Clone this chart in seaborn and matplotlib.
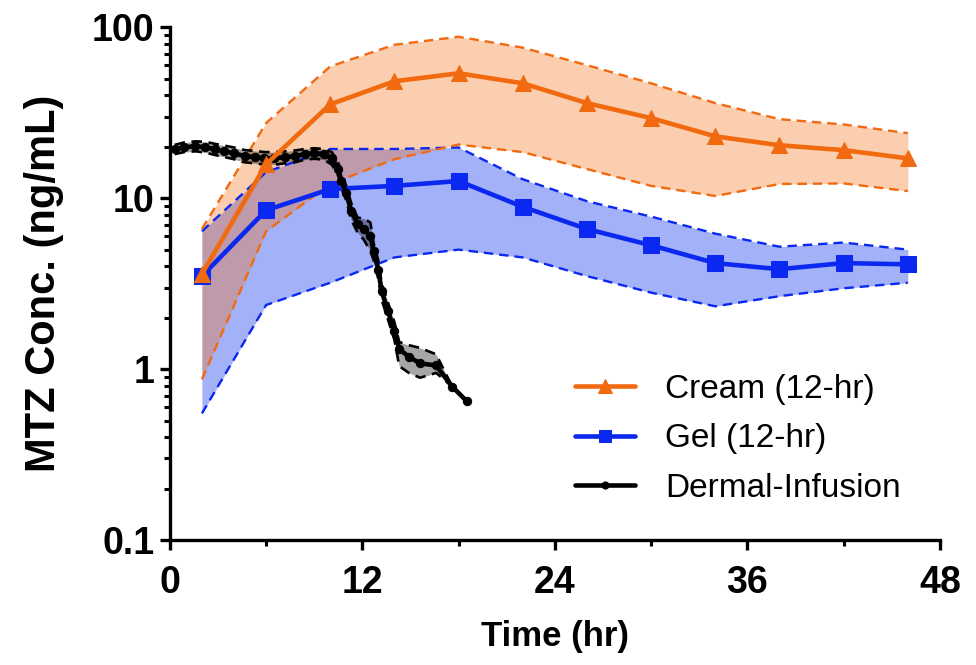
import numpy as np
import pandas as pd
import seaborn as sns
import matplotlib.pyplot as plt
from matplotlib.ticker import LogLocator, FixedLocator, FuncFormatter, NullFormatter

# tempi di campionamento (hr)
t_topical = [2, 6, 10, 14, 18, 22, 26, 30, 34, 38, 42, 46]

# crema: media e banda
cream_mean = [3.6, 15.8, 35.4, 48.3, 53.8, 47.0, 36.0, 29.4, 23.0, 20.4, 19.1, 17.1]
cream_hi = [6.6, 27.5, 59.0, 79.0, 88.0, 76.0, 60.0, 47.0, 36.0, 29.0, 27.0, 24.0]
cream_lo = [0.87, 6.4, 12.1, 16.9, 20.6, 18.6, 14.8, 11.8, 10.3, 12.1, 12.2, 11.0]

# gel: media e banda
gel_mean = [3.5, 8.5, 11.3, 11.8, 12.6, 8.9, 6.6, 5.3, 4.17, 3.84, 4.17, 4.1]
gel_hi = [6.4, 14.2, 19.4, 19.4, 19.8, 12.9, 9.6, 7.8, 6.2, 5.2, 5.5, 5.0]
gel_lo = [0.55, 2.37, 3.2, 4.5, 5.0, 4.5, 3.5, 2.8, 2.33, 2.67, 2.97, 3.2]

# infusione dermica
t_dermal = [0.3, 0.9, 1.6, 2.2, 2.8, 3.4, 4.0, 4.7, 5.3, 5.9, 6.5, 7.2, 7.8, 8.4, 9.0, 9.6,
            10.1, 10.5, 10.7, 11.0, 11.3, 11.7, 12.1, 12.5, 12.7, 13.0, 13.2, 13.6, 14.0,
            14.3, 14.9, 15.6, 16.6, 17.6, 18.5]
dermal_mean = [19.3, 19.9, 20.1, 19.9, 19.3, 18.8, 18.3, 17.6, 17.4, 17.1, 17.1, 17.4, 17.6,
               18.1, 18.3, 18.1, 17.1, 14.8, 12.6, 10.7, 8.4, 7.1, 6.6, 6.0, 4.9, 3.8, 2.86,
               2.18, 1.67, 1.31, 1.18, 1.08, 1.05, 0.79, 0.65]
dermal_hi = [20.5, 21.2, 21.5, 21.4, 20.8, 20.3, 19.8, 19.1, 18.9, 18.6, 18.6, 18.8, 19.0,
             19.4, 19.6, 19.4, 18.6, 16.2, 13.8, 11.8, 9.4, 7.7, 7.6, 7.2, 5.5, 4.3, 3.2,
             2.45, 1.88, 1.44, 1.38, 1.33, 1.22, 0.79, 0.65]
dermal_lo = [18.1, 18.6, 18.8, 18.5, 17.9, 17.4, 16.9, 16.2, 16.0, 15.7, 15.7, 16.0, 16.2,
             16.8, 17.0, 16.8, 15.7, 13.5, 11.4, 9.7, 7.5, 6.3, 5.7, 4.9, 4.35, 3.35, 2.55,
             1.95, 1.48, 1.04, 0.95, 0.89, 0.95, 0.79, 0.65]

cream = pd.DataFrame({'t': t_topical, 'c': cream_mean})
gel = pd.DataFrame({'t': t_topical, 'c': gel_mean})
dermal = pd.DataFrame({'t': t_dermal, 'c': dermal_mean})

sns.set_style('ticks')
plt.rcParams['font.family'] = ['Liberation Sans', 'DejaVu Sans']
plt.rcParams['text.color'] = 'black'
plt.rcParams['axes.labelcolor'] = 'black'
plt.rcParams['axes.edgecolor'] = 'black'

ORANGE = '#F26A10'
BLUE = '#0A28F0'

fig = plt.figure(figsize=(9.76, 6.65), dpi=100)
ax = fig.add_axes([0.174, 0.188, 0.789, 0.771])

# bande
ax.fill_between(t_topical, gel_lo, gel_hi, color='#0028F0', alpha=0.36, lw=0, zorder=1)
ax.fill_between(t_topical, cream_lo, cream_hi, color='#F37014', alpha=0.34, lw=0, zorder=1.1)
ax.fill_between(t_dermal, dermal_lo, dermal_hi, color='black', alpha=0.35, lw=0, zorder=1.2)

dash = (0, (4, 2.5))
for y in (gel_lo, gel_hi):
    ax.plot(t_topical, y, color=BLUE, lw=1.7, ls=dash, zorder=2)
for y in (cream_lo, cream_hi):
    ax.plot(t_topical, y, color=ORANGE, lw=1.7, ls=dash, zorder=2)
for y in (dermal_lo, dermal_hi):
    ax.plot(t_dermal, y, color='black', lw=1.9, ls=dash, zorder=2.1)

sns.lineplot(data=gel, x='t', y='c', color=BLUE, lw=3.3, marker='s', ms=11,
             mec=BLUE, label='Gel (12-hr)', ax=ax, zorder=3)
sns.lineplot(data=dermal, x='t', y='c', color='black', lw=3.3, marker='o', ms=6,
             mec='black', label='Dermal-Infusion', ax=ax, zorder=3.5)
sns.lineplot(data=cream, x='t', y='c', color=ORANGE, lw=3.3, marker='^', ms=12,
             mec=ORANGE, label='Cream (12-hr)', ax=ax, zorder=4)

ax.set_yscale('log')
ax.set_xlim(0, 48)
ax.set_ylim(0.1, 100)
ax.xaxis.set_major_locator(FixedLocator([0, 12, 24, 36, 48]))
ax.xaxis.set_minor_locator(FixedLocator([6, 18, 30, 42]))
ax.yaxis.set_major_locator(FixedLocator([0.1, 1, 10, 100]))
ax.yaxis.set_minor_locator(LogLocator(base=10, subs=np.arange(2, 10)))
ax.yaxis.set_major_formatter(FuncFormatter(lambda v, p: f'{v:g}'))
ax.yaxis.set_minor_formatter(NullFormatter())

for s in ('top', 'right'):
    ax.spines[s].set_visible(False)
for s in ('left', 'bottom'):
    ax.spines[s].set_linewidth(2.4)
    ax.spines[s].set_color('black')
ax.tick_params(which='major', length=7, width=2.4, direction='out', pad=4,
               labelsize=27, colors='black')
ax.tick_params(axis='x', which='major', pad=11)
ax.tick_params(which='minor', length=4.5, width=2.2, direction='out', colors='black')
for lab in ax.get_xticklabels() + ax.get_yticklabels():
    lab.set_fontweight('bold')

ax.set_xlabel('Time (hr)', fontsize=25, fontweight='bold', labelpad=14, color='black')
ax.set_ylabel('MTZ Conc. (ng/mL)', fontsize=30, fontweight='bold', labelpad=20, color='black')

h, l = ax.get_legend_handles_labels()
order = [l.index('Cream (12-hr)'), l.index('Gel (12-hr)'), l.index('Dermal-Infusion')]
ax.legend([h[i] for i in order], [l[i] for i in order], loc='center left',
          bbox_to_anchor=(0.509, 0.197), borderaxespad=0, frameon=False, fontsize=24,
          handlelength=1.8, handletextpad=0.9, labelspacing=0.55, markerscale=0.85,
          labelcolor='black')

fig.savefig('out.png', dpi=100)
